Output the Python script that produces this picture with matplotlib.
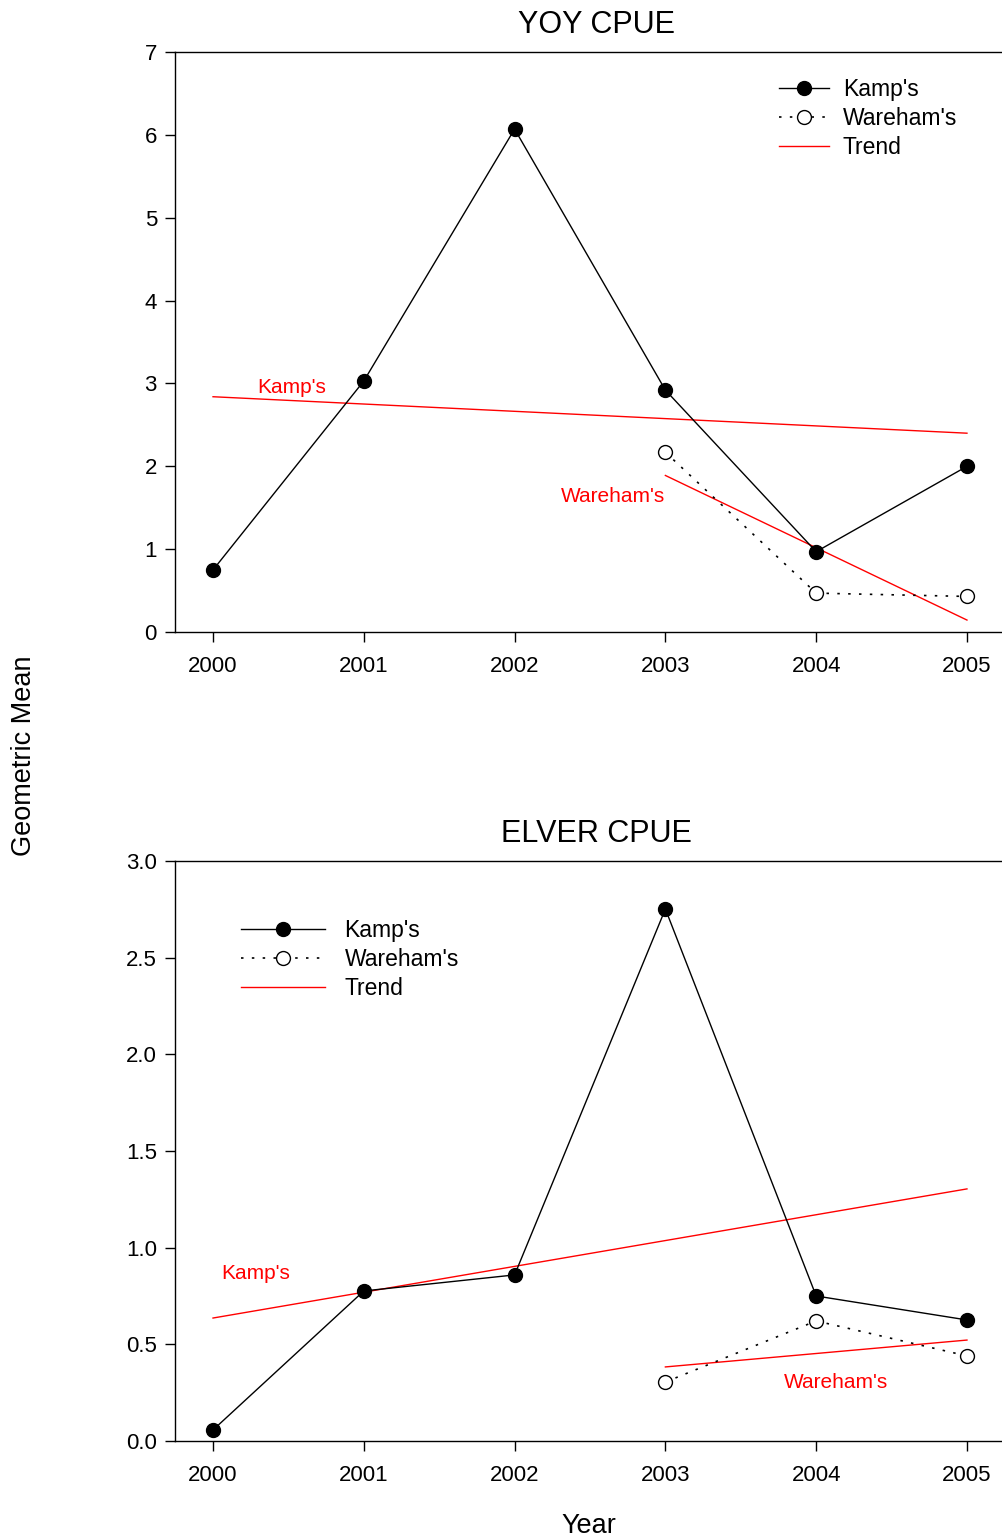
import numpy as np
import matplotlib
matplotlib.use("Agg")
import matplotlib.pyplot as plt

plt.rcParams['font.family'] = ['Liberation Sans', 'DejaVu Sans']

years = [2000, 2001, 2002, 2003, 2004, 2005]

# YOY CPUE
yoy_kamp = [0.75, 3.03, 6.07, 2.92, 0.97, 2.00]
yoy_ware_years = [2003, 2004, 2005]
yoy_ware = [2.17, 0.47, 0.43]
yoy_kamp_trend = [2.84, 2.40]      # at 2000, 2005
yoy_ware_trend = [1.89, 0.145]     # at 2003, 2005

# ELVER CPUE
elv_kamp = [0.057, 0.776, 0.859, 2.752, 0.750, 0.626]
elv_ware_years = [2003, 2004, 2005]
elv_ware = [0.305, 0.621, 0.44]
elv_kamp_trend = [0.636, 1.304]
elv_ware_trend = [0.383, 0.522]

fig = plt.figure(figsize=(10.03, 15.39), dpi=100)
ax1 = fig.add_axes([0.1745, 0.5893, 0.8255, 0.3769])
ax2 = fig.add_axes([0.1745, 0.0637, 0.8255, 0.3768])

dots = (0, (1.5, 5))


def draw(ax, kamp, wyears, ware, ktrend, wtrend):
    ax.plot(years, kamp, '-', color='black', lw=1.0, marker='o', ms=10,
            mfc='black', mec='black', label="Kamp's", zorder=3)
    ax.plot(wyears, ware, linestyle=dots, color='black', lw=1.2, marker='o', ms=10,
            mfc='white', mec='black', mew=1.0, label="Wareham's", zorder=3)
    ax.plot([years[0], years[-1]], ktrend, '-', color='red', lw=1.0, label='Trend', zorder=2)
    ax.plot([wyears[0], wyears[-1]], wtrend, '-', color='red', lw=1.0, zorder=2)
    ax.set_xlim(1999.748, 2005.239)
    ax.set_xticks(years)
    ax.spines['right'].set_visible(False)
    for s in ['left', 'top', 'bottom']:
        ax.spines[s].set_linewidth(1.0)
    ax.tick_params(direction='out', length=7, width=1.0, labelsize=16)
    ax.tick_params(axis='x', pad=10)
    ax.tick_params(axis='y', pad=6)


draw(ax1, yoy_kamp, yoy_ware_years, yoy_ware, yoy_kamp_trend, yoy_ware_trend)
ax1.set_ylim(0, 7)
ax1.set_yticks(range(0, 8))
ax1.set_title('YOY CPUE', fontsize=22, pad=14, x=0.5085)
ax1.text(2000.52, 2.95, "Kamp's", color='red', fontsize=15, ha='center', va='center')
ax1.text(2002.65, 1.63, "Wareham's", color='red', fontsize=15, ha='center', va='center')
ax1.legend(loc='upper left', bbox_to_anchor=(0.718, 0.971), frameon=False, fontsize=16.5,
           handlelength=2.2, handletextpad=0.6, labelspacing=0.27, borderaxespad=0)

draw(ax2, elv_kamp, elv_ware_years, elv_ware, elv_kamp_trend, elv_ware_trend)
ax2.set_ylim(0, 3.0)
ax2.set_yticks(np.arange(0, 3.01, 0.5))
ax2.set_yticklabels(['%.1f' % v for v in np.arange(0, 3.01, 0.5)])
ax2.set_title('ELVER CPUE', fontsize=22, pad=14, x=0.5085)
ax2.text(2000.28, 0.865, "Kamp's", color='red', fontsize=15, ha='center', va='center')
ax2.text(2004.13, 0.30, "Wareham's", color='red', fontsize=15, ha='center', va='center')
ax2.legend(loc='upper left', bbox_to_anchor=(0.069, 0.916), frameon=False, fontsize=16.5,
           handlelength=3.65, handletextpad=0.85, labelspacing=0.27, borderaxespad=0)
ax2.set_xlabel('Year', fontsize=19.5, labelpad=20)

fig.text(0.024, 0.509, 'Geometric Mean', rotation=90, fontsize=19.5, ha='center', va='center')

fig.savefig('out.png', dpi=100)
